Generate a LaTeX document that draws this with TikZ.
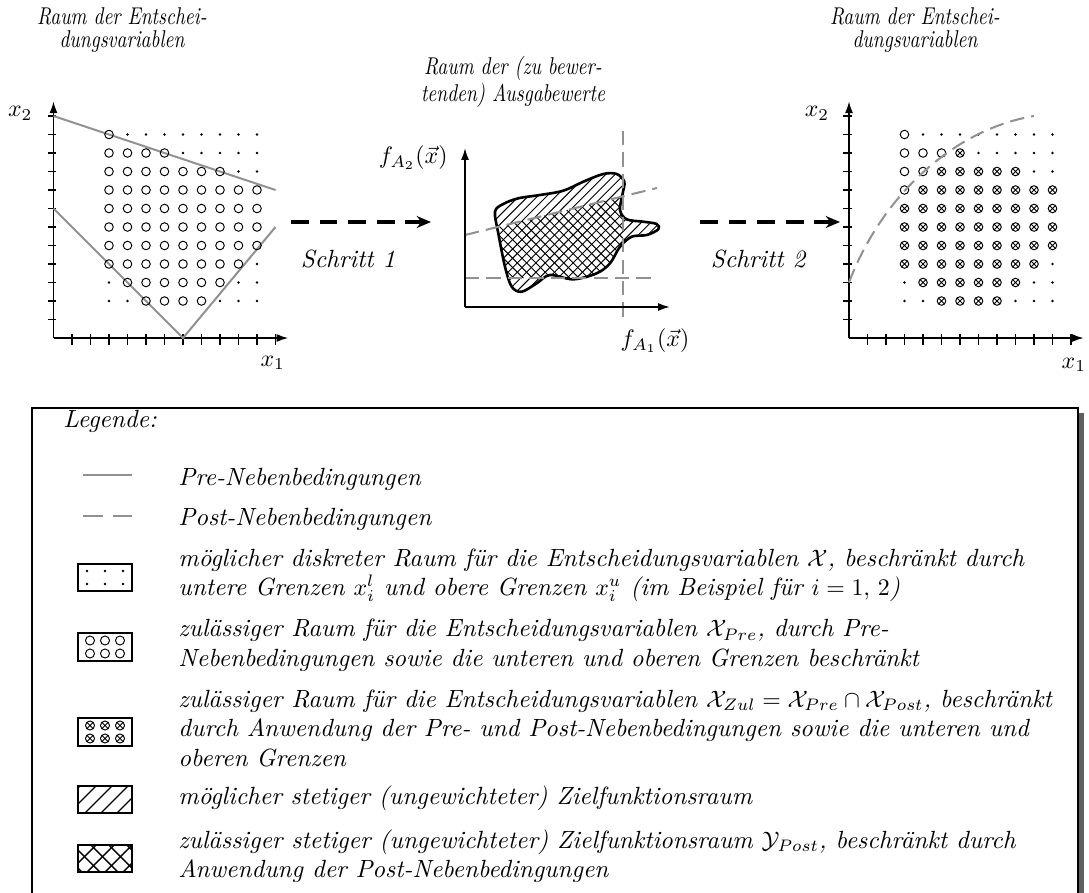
\documentclass[tikz,border=0pt]{standalone}
\usepackage{amsmath}
\usepackage{fontspec}
\usetikzlibrary{arrows.meta}
\definecolor{lgray}{RGB}{145,145,145}
\definecolor{shadowgray}{RGB}{95,95,95}
\begin{document}
\begin{tikzpicture}[x=0.42pt,y=-0.42pt,
  txt/.style={font=\itshape\fontsize{10.45}{12.5}\selectfont, inner sep=0pt},
  ttl/.style={font=\itshape\fontsize{10.2}{10}\selectfont, inner sep=0pt, align=center, xscale=0.8, transform shape},
  lg/.style={txt, anchor=base west},
  mathlbl/.style={font=\fontsize{10.2}{12}\selectfont, inner sep=0pt},
  axis/.style={line width=0.8pt, -{Latex[length=5pt,width=3.4pt]}},
  tickmark/.style={line width=0.55pt},
  prec/.style={lgray, line width=0.85pt},
  postc/.style={lgray, line width=0.85pt, dash pattern=on 6pt off 3pt},
  schrittpfeil/.style={line width=1.3pt, dash pattern=on 7.5pt off 4.5pt, -{Stealth[length=6pt,width=5pt]}},
  hatch/.style={line width=0.4pt},
  icon/.style={line width=0.8pt},
  ptc/.style={line width=0.4pt},
]
\useasboundingbox (0,0) rectangle (1089,892);

% ---------- titles
\node[ttl] (tl) at (122,30) {Raum der Entschei-\\dungsvariablen};
\node[ttl] (tm) at (513,82) {Raum der (zu bewer-\\tenden) Ausgabewerte};
\node[ttl] (tr) at (915,30) {Raum der Entschei-\\dungsvariablen};

% ---------- left plot
\begin{scope}[shift={(53.5,338)}, x=7.77pt, y=7.77pt]
  \foreach \i in {1,...,12} \draw[tickmark] (\i,0.2) -- (\i,-0.4);
  \foreach \j in {1,...,12} \draw[tickmark] (-0.3,\j) -- (0.15,\j);
  \coordinate (lo) at (0,0);
  \coordinate (lxe) at (12.7,0);
  \coordinate (lye) at (0,12.8);
  \draw[axis] (lo) -- (lxe);
  \draw[axis] (lo) -- (lye);
  \draw[prec] (0,12) -- (12,8);
  \draw[prec] (0,7) -- (7,0) -- (12,6);
  % dots
  \foreach \p in {(4,11),(5,11),(6,11),(7,11),(8,11),(9,11),(10,11),(11,11),
                  (7,10),(8,10),(9,10),(10,10),(11,10),(10,9),(11,9),(11,4),
                  (3,3),(10,3),(11,3),(3,2),(4,2),(9,2),(10,2),(11,2)}
    \fill \p circle[radius=0.55pt];
  % circles
  \foreach \p in {(3,11),(3,10),(4,10),(5,10),(6,10),
                  (3,9),(4,9),(5,9),(6,9),(7,9),(8,9),(9,9),
                  (4,3),(5,3),(6,3),(7,3),(8,3),(9,3),(5,2),(6,2),(7,2),(8,2)}
    \draw[ptc] \p circle[radius=1.8pt];
  \foreach \j in {5,6,7,8} \foreach \i in {3,...,11}
    \draw[ptc] (\i,\j) circle[radius=1.8pt];
  \foreach \i in {3,...,10} \draw[ptc] (\i,4) circle[radius=1.8pt];
  \node[mathlbl] (lx1) at (11.85,-1.35) {$x_1$};
  \node[mathlbl] (lx2) at (-1.8,12.15) {$x_2$};
\end{scope}

% ---------- right plot
\begin{scope}[shift={(849,338)}, x=7.77pt, y=7.77pt]
  \foreach \i in {1,...,12} \draw[tickmark] (\i,0.2) -- (\i,-0.4);
  \foreach \j in {1,...,12} \draw[tickmark] (-0.3,\j) -- (0.15,\j);
  \coordinate (ro) at (0,0);
  \coordinate (rxe) at (12.7,0);
  \coordinate (rye) at (0,12.8);
  \draw[axis] (ro) -- (rxe);
  \draw[axis] (ro) -- (rye);
  \foreach \p in {(4,11),(5,11),(6,11),(7,11),(8,11),(9,11),(10,11),(11,11),
                  (7,10),(8,10),(9,10),(10,10),(11,10),(10,9),(11,9),(11,4),
                  (3,3),(10,3),(11,3),(3,2),(4,2),(9,2),(10,2),(11,2)}
    \fill \p circle[radius=0.55pt];
  \foreach \p in {(3,11),(3,10),(4,10),(5,10),(3,9),(4,9),(3,8)}
    \draw[ptc] \p circle[radius=1.8pt];
  \foreach \p in {(6,10),(5,9),(6,9),(7,9),(8,9),(9,9),
                  (4,8),(5,8),(6,8),(7,8),(8,8),(9,8),(10,8),(11,8),
                  (4,3),(5,3),(6,3),(7,3),(8,3),(9,3),(5,2),(6,2),(7,2),(8,2),
                  (3,4),(4,4),(5,4),(6,4),(7,4),(8,4),(9,4),(10,4)}
    \draw[ptc] \p circle[radius=1.8pt] +(-1.25pt,-1.25pt) -- +(1.25pt,1.25pt) +(-1.25pt,1.25pt) -- +(1.25pt,-1.25pt);
  \foreach \j in {5,6,7} \foreach \i in {3,...,11}
    \draw[ptc] (\i,\j) circle[radius=1.8pt] +(-1.25pt,-1.25pt) -- +(1.25pt,1.25pt) +(-1.25pt,1.25pt) -- +(1.25pt,-1.25pt);
  \draw[postc] (0,3) .. controls (1.68,7.46) and (5.46,11.24) .. (10,12);
  \node[mathlbl] (rx1) at (12.15,-1.45) {$x_1$};
  \node[mathlbl] (rx2) at (-1.73,12.15) {$x_2$};
\end{scope}

% ---------- middle plot
\def\blob{plot[smooth cycle, tension=0.55] coordinates {
 (495,211.7) (498.3,233.3) (505,266.7) (511.7,286.7) (521.7,291.7) (536.7,283.3)
 (550,275) (573.3,279.3) (596.7,273.3) (610,263.3) (620,246.7) (631.7,236.7)
 (646.7,235) (658.3,229.3) (656.7,224) (643.3,221.7) (626.7,219.3) (620,210)
 (622.7,193.3) (624.3,181.7) (616.7,174) (603.3,174) (583.3,181.7) (563.3,190.7)
 (540,195) (518.3,198.3) (503.3,204)}}
\begin{scope}
  \clip \blob;
  \foreach \c in {650,659.3,...,970} \draw[hatch] (\c-320,320) -- (\c-150,150);
  \clip (465,235) -- (623,196.3) -- (623,278) -- (465,278) -- cycle;
  \foreach \d in {180,189.3,...,460} \draw[hatch] (\d+150,150) -- (\d+320,320);
\end{scope}
\draw[line width=1.1pt] \blob;
\coordinate (mo) at (465,307);
\coordinate (mxe) at (670,307);
\coordinate (mye) at (465,148);
\coordinate (va) at (623,131);
\coordinate (vb) at (623,323);
\coordinate (ha) at (465,278);
\coordinate (hb) at (657,278);
\coordinate (sa) at (465,235);
\coordinate (sb) at (657,188);
\draw[postc] (va) -- (vb);
\draw[postc] (ha) -- (hb);
\draw[postc] (sa) -- (sb);
\draw[axis] (mo) -- (mxe);
\draw[axis] (mo) -- (mye);
\node[mathlbl, anchor=east] (fa2) at (448,158) {$f_{A_2}(\vec{x})$};
\node[mathlbl] (fa1) at (655,341) {$f_{A_1}(\vec{x})$};

% ---------- step arrows
\coordinate (s1a) at (291,222);
\coordinate (s1b) at (431,222);
\coordinate (s2a) at (700,222);
\coordinate (s2b) at (840,222);
\draw[schrittpfeil] (s1a) -- (s1b);
\draw[schrittpfeil] (s2a) -- (s2b);
\node[txt] (sch1) at (348,259) {Schritt 1};
\node[txt] (sch2) at (758,259) {Schritt 2};

% ---------- legend box
\fill[shadowgray] (37,413) rectangle (1084,960);
\draw[line width=0.85pt, fill=white] (32,408) rectangle (1078,955);

\node[lg] (t0) at (63,427) {Legende:};
% Pre / Post icons
\coordinate (pa) at (83,475); \coordinate (pb) at (132,475);
\draw[prec] (pa) -- (pb);
\coordinate (qa) at (83,516); \coordinate (qb) at (132,516);
\draw[lgray, line width=0.85pt, dash pattern=on 8.4pt off 4pt] (qa) -- (qb);
\node[lg] (t1) at (178,485) {Pre-Nebenbedingungen};
\node[lg] (t2) at (178,525) {Post-Nebenbedingungen};

% discrete box
\draw[icon] (78,564) rectangle (132,591);
\foreach \x in {87,105,123} \foreach \y in {571,584} \fill (\x,\y) circle[radius=0.55pt];
\node[lg] (t3) at (178,566) {möglicher diskreter Raum für die Entscheidungsvariablen $\mathcal{X}$, beschränkt durch};
\node[lg] (t4) at (178,595.5) {untere Grenzen $x_i^l$ und obere Grenzen $x_i^u$ (im Beispiel für $i = 1,\,2$)};

% circles box
\draw[icon] (78,633) rectangle (132,661);
\foreach \x in {90,105,120} \foreach \y in {640.5,653.5} \draw[ptc] (\x,\y) circle[radius=1.9pt];
\node[lg] (t5) at (178,636.5) {zulässiger Raum für die Entscheidungsvariablen $\mathcal{X}_{Pre}$, durch Pre-};
\node[lg] (t6) at (178,666) {Nebenbedingungen sowie die unteren und oberen Grenzen beschränkt};

% otimes box
\draw[icon] (78,718) rectangle (132,746);
\foreach \x in {90,105,120} \foreach \y in {725.5,738.5}
  \draw[ptc] (\x,\y) circle[radius=1.9pt] +(-1.3pt,-1.3pt) -- +(1.3pt,1.3pt) +(-1.3pt,1.3pt) -- +(1.3pt,-1.3pt);
\node[lg] (t7) at (178,707) {zulässiger Raum für die Entscheidungsvariablen $\mathcal{X}_{Zul}=\mathcal{X}_{Pre}\cap\mathcal{X}_{Post}$, beschränkt};
\node[lg] (t8) at (178,736.5) {durch Anwendung der Pre- und Post-Nebenbedingungen sowie die unteren und};
\node[lg] (t9) at (178,766) {oberen Grenzen};

% NE lines box
\begin{scope}
  \clip (78,786) rectangle (132,813);
  \foreach \c in {850,866,...,960} \draw[line width=0.5pt] (\c-830,830) -- (\c-770,770);
\end{scope}
\draw[icon] (78,786) rectangle (132,813);
\node[lg] (t10) at (178,804) {möglicher stetiger (ungewichteter) Zielfunktionsraum};

% crosshatch box
\begin{scope}
  \clip (78,845) rectangle (132,872);
  \foreach \c in {905,923,...,1020} \draw[line width=0.6pt] (\c-890,890) -- (\c-830,830);
  \foreach \d in {-790,-772,...,-700} \draw[line width=0.6pt] (\d+830,830) -- (\d+890,890);
\end{scope}
\draw[icon] (78,845) rectangle (132,872);
\node[lg] (t11) at (178,848) {zulässiger stetiger (ungewichteter) Zielfunktionsraum $\mathcal{Y}_{Post}$, beschränkt durch};
\node[lg] (t12) at (178,877.5) {Anwendung der Post-Nebenbedingungen};
\end{tikzpicture}
\end{document}
